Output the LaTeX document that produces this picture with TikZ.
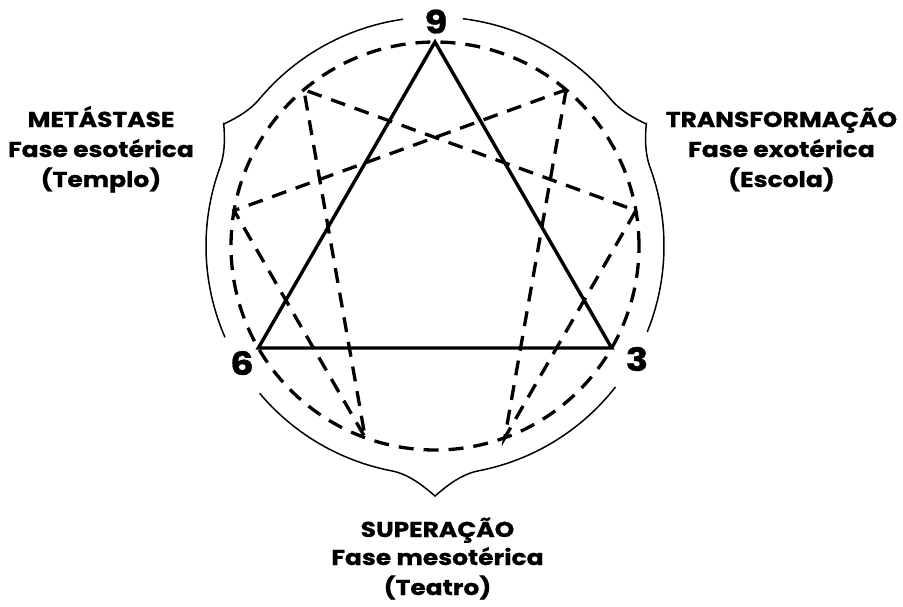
\documentclass[tikz,border=0pt]{standalone}
\usepackage{fontspec}
\setmainfont{Poppins}[BoldFeatures={FakeStretch=1.16,FakeBold=0.8}]
\begin{document}
\begin{tikzpicture}[x=1pt,y=1pt,
  dashline/.style={line width=3.3pt,dash pattern=on 15pt off 10pt},
  solidline/.style={line width=3.4pt,line join=miter},
  outer/.style={line width=1.5pt},
  lbl/.style={font=\bfseries\fontsize{21.5}{24}\selectfont,anchor=base,inner sep=0pt},
  num/.style={font=\bfseries\fontsize{32}{34}\selectfont,inner sep=0pt}]
\useasboundingbox (-435,-360) rectangle (468,246);
\coordinate (C) at (0,0);
\foreach \k in {1,...,9} \coordinate (p\k) at ({90-40*\k}:204);
\draw[dashline] (C) circle (204);
\draw[dashline] (p1)--(p4)--(p2)--(p8)--(p5)--(p7)--cycle;
\draw[solidline] (p9)--(p3)--(p6)--cycle;
% outer braces
\draw[outer] plot[domain=98:150,samples=70] (\x:{229+15*max(0,1-abs(\x-150)/10)^2})
  -- plot[domain=150:203.5,samples=70] (\x:{229+15*max(0,1-abs(\x-150)/10)^2});
\draw[outer] plot[domain=83:30,samples=70] (\x:{229+15*max(0,1-abs(\x-30)/10)^2})
  -- plot[domain=30:-22,samples=70] (\x:{229+15*max(0,1-abs(\x-30)/10)^2});
\draw[outer] plot[domain=220:270,samples=70] (\x:{229+21*max(0,1-abs(\x-270)/11)^2})
  -- plot[domain=270:322,samples=70] (\x:{229+21*max(0,1-abs(\x-270)/11)^2});
% numbers
\node[num] (n9) at (1,224.5) {9};
\node[num] (n6) at (-193,-117) {6};
\node[num] (n3) at (202,-113) {3};
% left
\node[lbl] (l1) at (-334,119) {METÁSTASE};
\node[lbl] (l2) at (-334,89) {Fase esotérica};
\node[lbl] (l3) at (-334,59) {(Templo)};
% right
\node[lbl] (r1) at (346.5,119) {TRANSFORMAÇÃO};
\node[lbl] (r2) at (346.5,89) {Fase exotérica};
\node[lbl] (r3) at (346.5,59) {(Escola)};
% bottom
\node[lbl] (b1) at (2.5,-291) {SUPERAÇÃO};
\node[lbl] (b2) at (2.5,-319) {Fase mesotérica};
\node[lbl] (b3) at (2.5,-349) {(Teatro)};
\end{tikzpicture}
\end{document}
